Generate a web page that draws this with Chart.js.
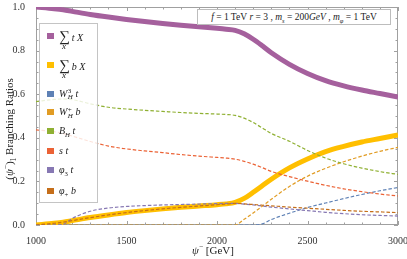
<!DOCTYPE html>
<html><head><meta charset="utf-8">
<script src="https://cdn.jsdelivr.net/npm/chart.js@4/dist/chart.umd.min.js"></script>
<style>
html,body{margin:0;padding:0;background:#fff;}
#wrap{position:relative;width:407px;height:259px;overflow:hidden;font-family:'Liberation Serif',serif;color:#222;}
canvas{position:absolute;left:0;top:0;}
.m{font-style:italic;}
sub,sup{font-size:68%;line-height:0;}
#legend{position:absolute;left:39px;top:23px;width:59px;height:180px;background:rgba(255,255,255,0.82);border:1px solid #c4c4c4;box-sizing:border-box;}
.sq{position:absolute;left:7px;width:7px;height:6px;}
.lab{position:absolute;left:19px;height:12px;line-height:12px;font-size:10px;white-space:nowrap;}
.sig{position:relative;display:inline-block;font-style:normal;font-size:15px;margin-right:2px;}
.sig .xs{position:absolute;left:3px;top:11px;font-size:9px;font-style:italic;line-height:10px;}
.ss{display:inline-block;vertical-align:middle;line-height:6px;font-size:7px;margin-left:0.5px;}
#note{position:absolute;left:197px;top:9px;width:194px;height:16px;background:#fff;border:1px solid #bdbdbd;box-sizing:border-box;font-size:9.5px;line-height:14px;text-align:center;white-space:nowrap;}
#ytitle{position:absolute;left:9px;top:129px;transform:translate(-50%,-50%) rotate(-90deg);font-size:11px;white-space:nowrap;}
#xtitle{position:absolute;left:213px;top:250px;transform:translate(-50%,-50%);font-size:11px;white-space:nowrap;}
</style></head>
<body>
<div id="wrap">
<canvas id="c" width="407" height="259"></canvas>
<div id="legend"></div>
<div id="note"><span class="m">f</span> = 1 TeV&nbsp;<span class="m">r</span> = 3 , <span class="m">m<sub>s</sub></span> = 200<span class="m">GeV</span> , <span class="m">m<sub>φ</sub></span> = 1 TeV</div>
<div id="ytitle">(<span class="m">ψ</span><sup>−</sup>)<sub>1</sub> Branching Ratios</div>
<div id="xtitle"><span class="m">ψ</span><sup>−</sup> [GeV]</div>
</div>
<script>
// ---- data ----
const mass = [1000,1100,1150,1200,1300,1400,1500,1600,1700,1800,1900,2000,2050,2100,2150,2200,2250,2300,2400,2500,2600,2700,2800,2900,3000];
const sumTX = [1.0,0.992,0.987,0.98,0.966,0.954,0.943,0.933,0.924,0.916,0.909,0.902,0.898,0.893,0.877,0.852,0.822,0.79,0.737,0.695,0.662,0.638,0.619,0.603,0.587];
const sumBX = [0.0,0.008,0.013,0.02,0.034,0.046,0.057,0.066,0.074,0.081,0.087,0.093,0.097,0.104,0.122,0.15,0.18,0.21,0.262,0.303,0.337,0.361,0.381,0.397,0.413];
const wh3t  = [0,0,0,0,0,0,0,0,0,0,0,0,0,0,0,0,0.005,0.025,0.054,0.08,0.101,0.121,0.14,0.157,0.172];
const whpb  = [0,0,0,0,0,0,0,0,0,0,0,0,0,0,0.026,0.055,0.086,0.118,0.177,0.224,0.26,0.29,0.316,0.338,0.356];
const bht   = [0.566,0.576,0.578,0.575,0.556,0.54,0.532,0.526,0.521,0.516,0.512,0.509,0.507,0.503,0.49,0.47,0.445,0.42,0.384,0.342,0.307,0.281,0.261,0.245,0.232];
const st    = [0.436,0.428,0.42,0.408,0.383,0.362,0.349,0.34,0.332,0.323,0.316,0.31,0.307,0.302,0.292,0.279,0.263,0.246,0.222,0.201,0.182,0.166,0.153,0.142,0.133];
const phi3t = [0,0,0.003,0.03,0.063,0.078,0.085,0.089,0.092,0.094,0.096,0.098,0.099,0.099,0.096,0.092,0.087,0.082,0.074,0.066,0.058,0.052,0.047,0.044,0.041];
const phipb = [0,0.008,0.013,0.02,0.034,0.046,0.057,0.066,0.074,0.081,0.087,0.093,0.096,0.099,0.097,0.094,0.091,0.088,0.082,0.077,0.072,0.067,0.063,0.06,0.057];
const xTickValues = [1000,1500,2000,2500,3000];
const yTickValues = [0,0.2,0.4,0.6,0.8,1.0];
const yTickLabels = ['0.0','0.2','0.4','0.6','0.8','1.0'];

const series = [
  {key:'sumTX', data:sumTX, color:'#A5609D', thick:true,
   label:'<span class="sig">∑<span class="xs">x</span></span><span class="m">t X</span>'},
  {key:'sumBX', data:sumBX, color:'#FFBF00', thick:true,
   label:'<span class="sig">∑<span class="xs">x</span></span><span class="m">b X</span>'},
  {key:'wh3t', data:wh3t, color:'#5E81B5',
   label:'<span class="m">W</span><span class="ss">3<br><i>H</i></span> <span class="m">t</span>'},
  {key:'whpb', data:whpb, color:'#E19C24',
   label:'<span class="m">W</span><span class="ss">+<br><i>H</i></span> <span class="m">b</span>'},
  {key:'bht', data:bht, color:'#8FB032',
   label:'<span class="m">B<sub>H</sub> t</span>'},
  {key:'st', data:st, color:'#EB6235',
   label:'<span class="m">s t</span>'},
  {key:'phi3t', data:phi3t, color:'#8778B3',
   label:'<span class="m">φ</span><sub>3</sub> <span class="m">t</span>'},
  {key:'phipb', data:phipb, color:'#C56E1A',
   label:'<span class="m">φ</span><sub>+</sub> <span class="m">b</span>'}
];
const legendCenters = [12.3,41.3,69.7,88,106.7,126.7,145.7,166.7];

// legend
const lg = document.getElementById('legend');
series.forEach((s,i)=>{
  const c = legendCenters[i];
  const sq = document.createElement('div');
  sq.className='sq'; sq.style.top=(c-3)+'px'; sq.style.background=s.color;
  lg.appendChild(sq);
  const lb = document.createElement('div');
  lb.className='lab'; lb.style.top=(c-6)+'px'; lb.innerHTML=s.label;
  lg.appendChild(lb);
});

const datasets = series.map((s,i)=>({
  label:s.key,
  data:mass.map((m,j)=>({x:m,y:s.data[j]})),
  borderColor:s.color,
  borderWidth:s.thick?5:1.2,
  borderDash:s.thick?[]:[3.5,2],
  pointRadius:0,
  fill:false,
  cubicInterpolationMode:'monotone',
  order: series.length - i
}));

const frameTicks = {
  id:'frameTicks',
  beforeDatasetsDraw(chart){
    const {ctx, chartArea:a, scales:{x,y}} = chart;
    ctx.save();
    ctx.strokeStyle='#a0a0a0'; ctx.lineWidth=1;
    ctx.strokeRect(a.left+0.5,a.top+0.5,a.right-a.left-1,a.bottom-a.top-1);
    ctx.beginPath();
    for(let i=0;i<=20;i++){
      const v=1000+i*100; const px=Math.round(x.getPixelForValue(v))+0.5;
      const L=(i%5===0)?4:2.5;
      ctx.moveTo(px,a.bottom); ctx.lineTo(px,a.bottom-L);
      ctx.moveTo(px,a.top); ctx.lineTo(px,a.top+L);
    }
    for(let i=0;i<=20;i++){
      const v=i*0.05; const py=Math.round(y.getPixelForValue(v))+0.5;
      const L=(i%4===0)?4:2.5;
      ctx.moveTo(a.left,py); ctx.lineTo(a.left+L,py);
      ctx.moveTo(a.right,py); ctx.lineTo(a.right-L,py);
    }
    ctx.stroke();
    ctx.restore();
  }
};

new Chart(document.getElementById('c'),{
  type:'line',
  data:{datasets},
  options:{
    responsive:false, animation:false, devicePixelRatio:1,
    layout:{padding:{top:7,right:9,left:0,bottom:0}},
    plugins:{legend:{display:false},tooltip:{enabled:false}},
    scales:{
      x:{type:'linear',min:1000,max:3000,
        grid:{display:false},border:{display:false},
        afterBuildTicks(s){s.ticks=xTickValues.map(v=>({value:v}));},
        ticks:{font:{family:'Liberation Serif',size:10},color:'#333',padding:2,maxRotation:0,autoSkip:false,
          callback:(v)=>String(v)},
        afterFit(s){s.height=34;s.paddingLeft=0;s.paddingRight=0;}
      },
      y:{min:0,max:1,
        grid:{display:false},border:{display:false},
        afterBuildTicks(s){s.ticks=yTickValues.map(v=>({value:v}));},
        ticks:{font:{family:'Liberation Serif',size:10},color:'#333',padding:3,autoSkip:false,
          callback:(v)=>{const k=yTickValues.findIndex(t=>Math.abs(t-v)<1e-9);return k>=0?yTickLabels[k]:'';}},
        afterFit(s){s.width=36;s.paddingTop=0;s.paddingBottom=0;}
      }
    }
  },
  plugins:[frameTicks]
});
</script>
</body></html>
